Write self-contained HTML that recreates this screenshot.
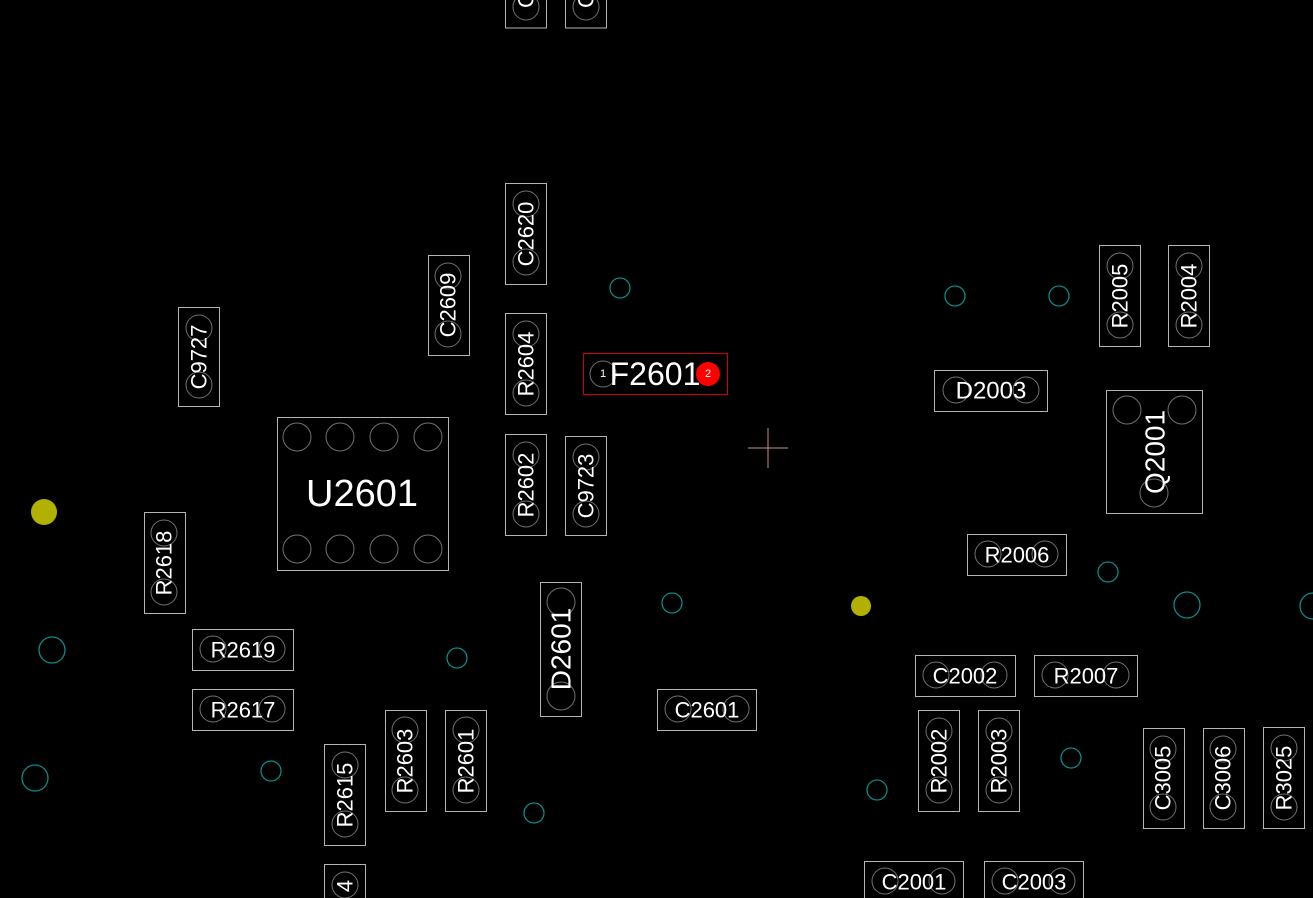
<!DOCTYPE html>
<html><head><style>html,body{margin:0;padding:0;background:#000;}svg{display:block}</style></head>
<body>
<svg width="1313" height="898" viewBox="0 0 1313 898" xmlns="http://www.w3.org/2000/svg" font-family="Liberation Sans, sans-serif">
<rect width="1313" height="898" fill="#000"/>
<g fill="none" stroke="#707070" stroke-width="1">
<circle cx="526" cy="7" r="13"/><circle cx="586" cy="7" r="13"/>
<circle cx="526" cy="204" r="13"/><circle cx="526" cy="262" r="13"/>
<circle cx="448" cy="276" r="13"/><circle cx="448" cy="334" r="13"/>
<circle cx="199" cy="328" r="13"/><circle cx="199" cy="385" r="13"/>
<circle cx="526" cy="334" r="13"/><circle cx="526" cy="393" r="13"/>
<circle cx="526" cy="455" r="13"/><circle cx="526" cy="514" r="13"/>
<circle cx="586" cy="457" r="13"/><circle cx="586" cy="514" r="13"/>
<circle cx="164" cy="533" r="13"/><circle cx="164" cy="592" r="13"/>
<circle cx="561" cy="602" r="14"/><circle cx="561" cy="696" r="14"/>
<circle cx="345" cy="765" r="13"/><circle cx="345" cy="824" r="13"/>
<circle cx="405" cy="730" r="13"/><circle cx="405" cy="790" r="13"/>
<circle cx="466" cy="730" r="13"/><circle cx="466" cy="790" r="13"/>
<circle cx="345" cy="885" r="13"/>
<circle cx="939" cy="731" r="13"/><circle cx="939" cy="790" r="13"/>
<circle cx="999" cy="731" r="13"/><circle cx="999" cy="790" r="13"/>
<circle cx="1163" cy="749" r="13"/><circle cx="1163" cy="807" r="13"/>
<circle cx="1223" cy="749" r="13"/><circle cx="1223" cy="807" r="13"/>
<circle cx="1284" cy="748" r="13"/><circle cx="1284" cy="807" r="13"/>
<circle cx="1120" cy="266" r="13"/><circle cx="1120" cy="325" r="13"/>
<circle cx="1189" cy="266" r="13"/><circle cx="1189" cy="325" r="13"/>
<circle cx="213" cy="649" r="13"/><circle cx="272" cy="649" r="13"/>
<circle cx="213" cy="709" r="13"/><circle cx="272" cy="709" r="13"/>
<circle cx="678" cy="709" r="13"/><circle cx="736" cy="709" r="13"/>
<circle cx="956" cy="390" r="13"/><circle cx="1026" cy="390" r="13"/>
<circle cx="988" cy="554" r="13"/><circle cx="1045" cy="554" r="13"/>
<circle cx="936" cy="675" r="13"/><circle cx="994" cy="675" r="13"/>
<circle cx="1055" cy="675" r="13"/><circle cx="1116" cy="675" r="13"/>
<circle cx="885" cy="881" r="13"/><circle cx="942" cy="881" r="13"/>
<circle cx="1005" cy="881" r="13"/><circle cx="1062" cy="881" r="13"/>
<circle cx="297" cy="437" r="14"/><circle cx="340" cy="437" r="14"/><circle cx="384" cy="437" r="14"/><circle cx="428" cy="437" r="14"/>
<circle cx="297" cy="549" r="14"/><circle cx="340" cy="549" r="14"/><circle cx="384" cy="549" r="14"/><circle cx="428" cy="549" r="14"/>
<circle cx="1127" cy="410" r="14"/><circle cx="1182" cy="410" r="14"/><circle cx="1154" cy="493" r="14"/>
<circle cx="603" cy="374" r="13"/>
</g>
<g fill="none" stroke="#b4b4b4" stroke-width="1">
<rect x="505.5" y="-5" width="41" height="33"/><rect x="565.5" y="-5" width="41" height="33"/>
<rect x="505.5" y="183.5" width="41" height="101"/>
<rect x="428.5" y="255.5" width="41" height="100"/>
<rect x="178.5" y="307.5" width="41" height="99"/>
<rect x="505.5" y="313.5" width="41" height="101"/>
<rect x="505.5" y="434.5" width="41" height="101"/>
<rect x="565.5" y="436.5" width="41" height="99"/>
<rect x="144.5" y="512.5" width="41" height="101"/>
<rect x="540.5" y="582.5" width="41" height="134"/>
<rect x="324.5" y="744.5" width="41" height="101"/>
<rect x="385.5" y="710.5" width="41" height="101"/>
<rect x="445.5" y="710.5" width="41" height="101"/>
<rect x="324.5" y="864.5" width="41" height="40"/>
<rect x="918.5" y="710.5" width="41" height="101"/>
<rect x="978.5" y="710.5" width="41" height="101"/>
<rect x="1143.5" y="728.5" width="41" height="100"/>
<rect x="1203.5" y="728.5" width="41" height="100"/>
<rect x="1263.5" y="727.5" width="41" height="101"/>
<rect x="1099.5" y="245.5" width="41" height="101"/>
<rect x="1168.5" y="245.5" width="41" height="101"/>
<rect x="192.5" y="629.5" width="101" height="41"/>
<rect x="192.5" y="689.5" width="101" height="41"/>
<rect x="657.5" y="689.5" width="99" height="41"/>
<rect x="934.5" y="370.5" width="113" height="41"/>
<rect x="967.5" y="534.5" width="99" height="41"/>
<rect x="915.5" y="655.5" width="100" height="41"/>
<rect x="1034.5" y="655.5" width="103" height="41"/>
<rect x="864.5" y="861.5" width="99" height="45"/>
<rect x="984.5" y="861.5" width="99" height="45"/>
<rect x="277.5" y="417.5" width="171" height="153"/>
<rect x="1106.5" y="390.5" width="96" height="123"/>
</g>
<rect x="583.5" y="353.5" width="144" height="41" fill="none" stroke="#d00000"/>
<circle cx="708" cy="374" r="12" fill="#ff0000"/>
<g fill="none" stroke="#0a8a8a" stroke-width="1.3">
<circle cx="620" cy="288" r="10"/><circle cx="955" cy="296" r="10"/><circle cx="1059" cy="296" r="10"/>
<circle cx="672" cy="603" r="10"/><circle cx="457" cy="658" r="10"/><circle cx="52" cy="650" r="13"/>
<circle cx="35" cy="778" r="13"/><circle cx="271" cy="771" r="10"/><circle cx="534" cy="813" r="10"/>
<circle cx="877" cy="790" r="10"/><circle cx="1071" cy="758" r="10"/><circle cx="1108" cy="572" r="10"/>
<circle cx="1187" cy="605" r="13"/><circle cx="1313" cy="606" r="13"/>
</g>
<circle cx="44" cy="512" r="13" fill="#b2b000"/>
<circle cx="861" cy="606" r="10" fill="#b2b000"/>
<g stroke="#c89090" stroke-width="1"><line x1="748" y1="448" x2="788" y2="448"/><line x1="768" y1="428" x2="768" y2="468"/></g>
<g fill="#fff" font-size="22" text-anchor="middle" dominant-baseline="central">
<text transform="translate(526,0) rotate(-90)">C</text>
<text transform="translate(586,0) rotate(-90)">C</text>
<text transform="translate(526,234) rotate(-90)">C2620</text>
<text transform="translate(448,305) rotate(-90)">C2609</text>
<text transform="translate(199,357) rotate(-90)">C9727</text>
<text transform="translate(526,364) rotate(-90)">R2604</text>
<text transform="translate(526,485) rotate(-90)">R2602</text>
<text transform="translate(586,486) rotate(-90)">C9723</text>
<text transform="translate(164,563) rotate(-90)">R2618</text>
<text transform="translate(561,649) rotate(-90)" font-size="28">D2601</text>
<text transform="translate(345,795) rotate(-90)">R2615</text>
<text transform="translate(405,761) rotate(-90)">R2603</text>
<text transform="translate(466,761) rotate(-90)">R2601</text>
<text transform="translate(345,886) rotate(-90)">4</text>
<text transform="translate(939,761) rotate(-90)">R2002</text>
<text transform="translate(999,761) rotate(-90)">R2003</text>
<text transform="translate(1163,778) rotate(-90)">C3005</text>
<text transform="translate(1223,778) rotate(-90)">C3006</text>
<text transform="translate(1284,778) rotate(-90)">R3025</text>
<text transform="translate(1120,296) rotate(-90)">R2005</text>
<text transform="translate(1189,296) rotate(-90)">R2004</text>
<text transform="translate(1155,452) rotate(-90)" font-size="28">Q2001</text>
<text x="243" y="650">R2619</text>
<text x="243" y="710">R2617</text>
<text x="707" y="710">C2601</text>
<text x="991" y="391" font-size="24">D2003</text>
<text x="1017" y="555">R2006</text>
<text x="965" y="676">C2002</text>
<text x="1086" y="676">R2007</text>
<text x="914" y="882">C2001</text>
<text x="1034" y="882">C2003</text>
<text x="362" y="494" font-size="38">U2601</text>
<text x="655" y="374" font-size="32">F2601</text>
<text x="603" y="374" font-size="11">1</text>
<text x="708" y="374" font-size="11">2</text>
</g>
</svg>
</body></html>
